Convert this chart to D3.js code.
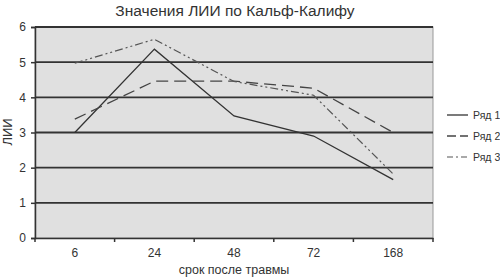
<!DOCTYPE html>
<html><head><meta charset="utf-8">
<script src="https://cdn.jsdelivr.net/npm/d3@7"></script>
<style>body{margin:0;background:#fff}svg{display:block}text{font-family:"Liberation Sans",Arial,sans-serif}</style>
</head><body><svg id="c" width="500" height="279"></svg>
<script>
const categories = ["6","24","48","72","168"];
const series1 = [3.0, 5.37, 3.47, 2.9, 1.66];
const series2 = [3.38, 4.46, 4.46, 4.26, 3.0];
const series3 = [4.97, 5.65, 4.45, 4.06, 1.82];
const seriesNames = ["Ряд 1","Ряд 2","Ряд 3"];
const yTicks = [0,1,2,3,4,5,6];
const title = "Значения ЛИИ по Кальф-Калифу";
const xTitle = "срок после травмы";
const yTitle = "ЛИИ";

const svg = d3.select("#c");
const m = {l:35, r:433, t:27, b:238};
const x = d3.scaleBand().domain(categories).range([m.l, m.r]);
const y = d3.scaleLinear().domain([0,6]).range([m.b, m.t]);

svg.append("rect").attr("x",m.l).attr("y",m.t).attr("width",m.r-m.l).attr("height",m.b-m.t)
  .attr("fill","#e0e0e0").attr("stroke","#999").attr("stroke-width",1);

svg.append("g").selectAll("line").data(yTicks.filter(d=>d>0)).join("line")
  .attr("x1",m.l).attr("x2",m.r).attr("y1",d=>y(d)).attr("y2",d=>y(d))
  .attr("stroke","#333").attr("stroke-width",1.8);

// y axis
const ya = svg.append("g").attr("transform",`translate(${m.l},0)`)
  .call(d3.axisLeft(y).tickValues(yTicks).tickSize(4).tickPadding(5).tickFormat(d3.format("d")));
ya.select(".domain").attr("stroke","#333").attr("stroke-width",1.5);
ya.selectAll(".tick line").attr("stroke","#333").attr("stroke-width",1.5);
ya.selectAll("text").attr("font-size",12).attr("fill","#333");

// x axis
const xa = svg.append("g").attr("transform",`translate(0,${m.b})`)
  .call(d3.axisBottom(x).tickSize(0).tickPadding(10));
xa.select(".domain").attr("stroke","#333").attr("stroke-width",1.5);
xa.selectAll("text").attr("font-size",12).attr("fill","#333");
const bounds = categories.map(c=>x(c)).concat([m.r]);
svg.append("g").selectAll("line").data(bounds).join("line")
  .attr("x1",d=>d).attr("x2",d=>d).attr("y1",m.b).attr("y2",m.b+4)
  .attr("stroke","#333").attr("stroke-width",1.5);

const line = d3.line().x((d,i)=>x(categories[i])+x.bandwidth()/2).y(d=>y(d));
const styles = [
  {stroke:"#333", dash:null, w:1.3},
  {stroke:"#444", dash:"12,6", w:1.3},
  {stroke:"#555", dash:"8,3,2,3,2,3", w:1.2}
];
[series1,series2,series3].forEach((s,i)=>{
  svg.append("path").datum(s).attr("d",line).attr("fill","none")
    .attr("stroke",styles[i].stroke).attr("stroke-width",styles[i].w)
    .attr("stroke-dasharray",styles[i].dash);
});

// legend
const leg = svg.append("g");
seriesNames.forEach((n,i)=>{
  const ly = 115 + i*21;
  leg.append("line").attr("x1",447).attr("x2",468).attr("y1",ly).attr("y2",ly)
    .attr("stroke",styles[i].stroke).attr("stroke-width",styles[i].w)
    .attr("stroke-dasharray",i==1?"9,4":(i==2?"6,3,2,3":null));
  leg.append("text").attr("x",473).attr("y",ly+4).attr("font-size",10.5).attr("fill","#333").text(n);
});

svg.append("text").attr("x",235).attr("y",16).attr("text-anchor","middle")
  .attr("font-size",15.5).attr("fill","#333").text(title);
svg.append("text").attr("x",234).attr("y",274).attr("text-anchor","middle")
  .attr("font-size",12.5).attr("fill","#333").text(xTitle);
svg.append("text").attr("transform","translate(12,132) rotate(-90)").attr("text-anchor","middle")
  .attr("font-size",13).attr("fill","#333").text(yTitle);
</script></body></html>
